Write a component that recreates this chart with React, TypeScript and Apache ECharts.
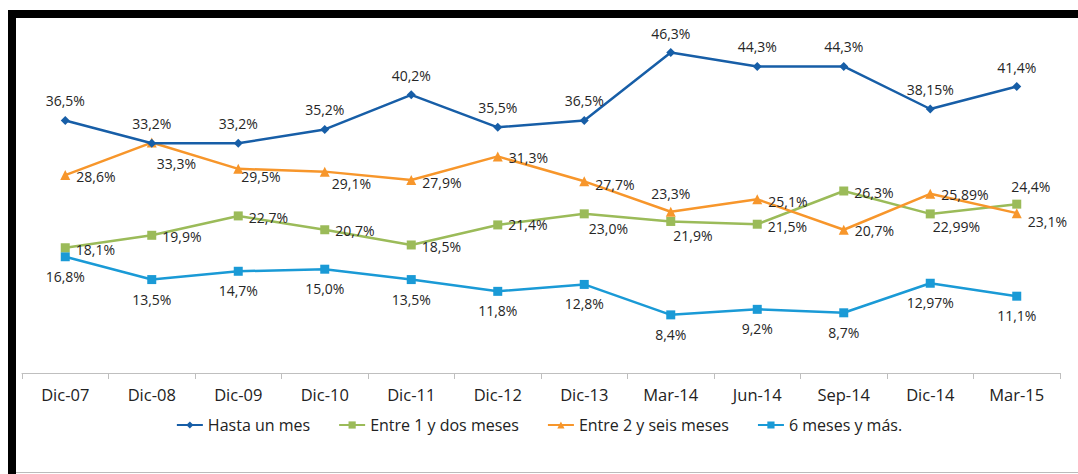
import React, { useEffect, useRef } from "react";
import * as echarts from "echarts";

const categories = ["Dic-07", "Dic-08", "Dic-09", "Dic-10", "Dic-11", "Dic-12", "Dic-13", "Mar-14", "Jun-14", "Sep-14", "Dic-14", "Mar-15"];
const hastaUnMes = [36.5, 33.2, 33.2, 35.2, 40.2, 35.5, 36.5, 46.3, 44.3, 44.3, 38.15, 41.4];
const entre1yDos = [18.1, 19.9, 22.7, 20.7, 18.5, 21.4, 23.0, 21.9, 21.5, 26.3, 22.99, 24.4];
const entre2ySeis = [28.6, 33.3, 29.5, 29.1, 27.9, 31.3, 27.7, 23.3, 25.1, 20.7, 25.89, 23.1];
const seisMeses = [16.8, 13.5, 14.7, 15.0, 13.5, 11.8, 12.8, 8.4, 9.2, 8.7, 12.97, 11.1];
const seriesNames = ["Hasta un mes", "Entre 1 y dos meses", "Entre 2 y seis meses", "6 meses y más."];

// label placement (layout, not data)
const greenLabelOffsets: number[][] = [[0, 2], [0, 1], [0, 2], [0, 1], [0, 2], [0, 0], [-6, 15], [-8, 14], [0, 2], [0, 1], [-8, 13], [0, 0]];
const greenLabelPos = ["right", "right", "right", "right", "right", "right", "right", "right", "right", "right", "right", "topRight"];
const orangeLabelOffsets: number[][] = [[0, 1], [-6, 21], [-8, 8], [-4, 12], [0, 3], [0, 1], [0, 3], [0, 0], [0, 2], [0, 1], [0, 1], [0, 8]];
const orangeLabelPos = ["right", "right", "right", "right", "right", "right", "right", "top", "right", "right", "right", "right"];

const fmt = (v: number) => {
  const s = Math.round(v * 10) === v * 10 ? v.toFixed(1) : v.toFixed(2);
  return s.replace(".", ",") + "%";
};

const labelStyle = {
  show: true,
  color: "#262626",
  fontSize: 14,
  fontFamily: "Open Sans",
  formatter: (p: any) => fmt(p.value),
};

export default function App() {
  const ref = useRef<HTMLDivElement>(null);
  useEffect(() => {
    if (!ref.current) return;
    const chart = echarts.init(ref.current, undefined, { renderer: "svg" });
    const mkData = (vals: number[], pos: string[], offs: number[][]) =>
      vals.map((v, i) => {
        let position: any = pos[i];
        let offset = offs[i];
        if (pos[i] === "topRight") {
          position = "top";
          offset = [14, 0];
        }
        return { value: v, label: { position, offset, distance: 6 } };
      });
    chart.setOption({
      animation: false,
      textStyle: { fontFamily: "Open Sans" },
      grid: { left: 22, right: 18, top: 27, bottom: 101 },
      xAxis: {
        type: "category",
        data: categories,
        boundaryGap: true,
        axisLine: { lineStyle: { color: "#BFBFBF", width: 1 } },
        axisTick: { show: true, length: 6, lineStyle: { color: "#BFBFBF" } },
        axisLabel: { color: "#222", fontSize: 16.5, margin: 13, fontFamily: "Open Sans" },
      },
      yAxis: {
        type: "value",
        min: 0,
        max: 50,
        show: false,
        splitLine: { show: false },
      },
      legend: {
        bottom: 36,
        left: "center",
        itemGap: 28,
        itemWidth: 26,
        itemHeight: 9,
        textStyle: { color: "#222", fontSize: 16, fontFamily: "Open Sans" },
        data: seriesNames,
      },
      graphic: [
        { type: "rect", shape: { x: 8, y: 10, width: 1070, height: 8 }, style: { fill: "#000" } },
        { type: "rect", shape: { x: 8, y: 10, width: 8, height: 464 }, style: { fill: "#000" } },
        { type: "line", shape: { x1: 16, y1: 472.5, x2: 1078, y2: 472.5 }, style: { stroke: "#BBBBBB", lineWidth: 1 } },
      ],
      series: [
        {
          name: seriesNames[0],
          type: "line",
          data: hastaUnMes,
          symbol: "diamond",
          symbolSize: 9,
          itemStyle: { color: "#175EA7" },
          lineStyle: { color: "#175EA7", width: 2.5 },
          label: { ...labelStyle, position: "top", distance: 8 },
          z: 4,
        },
        {
          name: seriesNames[1],
          type: "line",
          data: mkData(entre1yDos, greenLabelPos, greenLabelOffsets),
          symbol: "rect",
          symbolSize: 9,
          itemStyle: { color: "#9BBB59" },
          lineStyle: { color: "#9BBB59", width: 2.5 },
          label: { ...labelStyle },
          z: 2,
        },
        {
          name: seriesNames[2],
          type: "line",
          data: mkData(entre2ySeis, orangeLabelPos, orangeLabelOffsets),
          symbol: "triangle",
          symbolSize: 10,
          itemStyle: { color: "#F7962B" },
          lineStyle: { color: "#F7962B", width: 2.5 },
          label: { ...labelStyle },
          z: 3,
        },
        {
          name: seriesNames[3],
          type: "line",
          data: seisMeses,
          symbol: "rect",
          symbolSize: 9,
          itemStyle: { color: "#1A9AD6" },
          lineStyle: { color: "#1A9AD6", width: 2.5 },
          label: { ...labelStyle, position: "bottom", distance: 8 },
          z: 1,
        },
      ],
    });
    return () => chart.dispose();
  }, []);
  return <div ref={ref} style={{ position: "fixed", left: 0, top: 0, width: 1078, height: 474, background: "#fff" }} />;
}
